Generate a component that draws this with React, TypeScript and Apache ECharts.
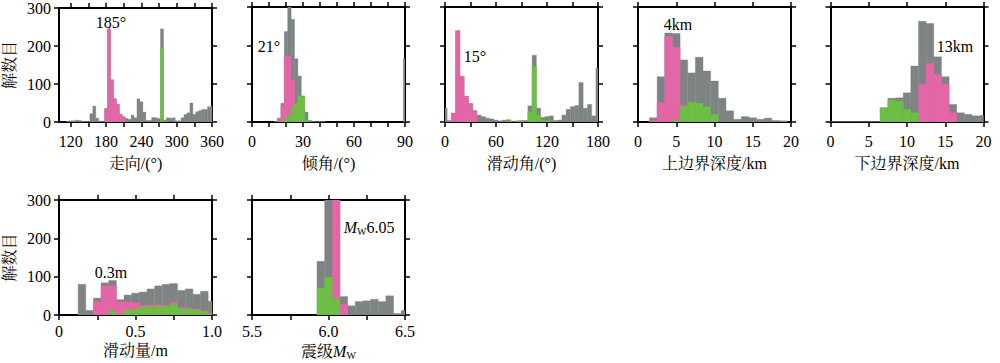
import React, { useEffect, useRef } from 'react';
import * as echarts from 'echarts';

// ---------- data (bin centres and counts) ----------
const strikeBins = [100,105,110,115,120,125,130,135,140,145,150,155,160,165,170,175,180,185,190,195,200,205,210,215,220,225,230,235,240,245,250,255,260,265,270,275,280,285,290,295,300,305,310,315,320,325,330,335,340,345,350,355,360];
const strikeAll = [0,0,0,2,3,3,5,4,2,1,1,22,42,10,2,2,35,245,111,61,46,20,14,9,7,18,11,61,53,26,4,4,12,11,9,245,5,11,10,11,3,3,11,20,24,50,20,27,30,33,33,40,42];
const strikePinkBins = [180,185,190,195,200,205,210];
const strikePink = [35,245,111,61,46,20,12];
const strikeGreenBins = [275,280];
const strikeGreen = [193,3];

const dipBins = [14,16,18,20,22,24,26,28,30,32,34,36,38,40,42,90];
const dipAll = [2,10,49,236,300,268,165,120,68,26,4,2,1,1,1,165];
const dipPinkBins = [16,18,20,22,24,26,28,30];
const dipPink = [7,44,170,172,110,45,18,4];
const dipGreenBins = [18,20,22,24,26,28,30,32];
const dipGreen = [2,7,18,38,48,68,66,6];

const rakeBins = [0,5,10,15,20,25,30,35,40,45,50,55,60,65,70,75,80,85,90,95,100,105,110,115,120,125,130,135,140,145,150,155,160,165,170,175,180];
const rakeAll = [36,4,23,238,119,67,48,30,18,14,10,8,5,3,5,6,2,3,4,4,42,174,36,12,14,16,4,5,18,33,40,43,103,36,46,16,140];
const rakePinkBins = [5,10,15,20,25,30,35];
const rakePink = [2,23,238,119,67,48,27];
const rakeGreenBins = [75,85,90,100,105,110,115,120,125];
const rakeGreen = [3,2,2,27,145,18,5,4,3];

const topBins = [2,3,4,5,6,7,8,9,10,11,12,13,14,15,16,17,18,19];
const topAll = [11,118,232,231,162,128,169,133,107,62,29,7,14,11,7,10,4,3];
const topPinkBins = [2,3,4,5,6];
const topPink = [4,50,223,195,43];
const topGreenBins = [5,6,7,8,9,10];
const topGreen = [4,40,52,49,40,20];

const botBins = [0,1,2,3,4,5,6,7,8,9,10,11,12,13,14,15,16,17,18,19,20];
const botAll = [1,1,1,1,1,1,1,37,62,63,76,146,263,257,170,118,46,24,20,16,17];
const botPinkBins = [12,13,14,15,16];
const botPink = [98,153,124,98,24];
const botGreenBins = [7,8,9,10,11];
const botGreen = [37,57,55,33,24];

const slipBins = [0.15,0.2,0.25,0.3,0.35,0.4,0.45,0.5,0.55,0.6,0.65,0.7,0.75,0.8,0.85,0.9,0.95,1.0];
const slipAll = [80,12,44,84,90,40,52,57,60,68,76,80,82,64,68,54,62,36];
const slipPinkBins = [0.25,0.3,0.35,0.4,0.45,0.5,0.55,0.6,0.65,0.7,0.75,0.8,0.85,0.9,0.95,1.0];
const slipPink = [35,76,76,35,34,33,25,26,27,26,33,20,18,16,11,5];
const slipGreenBins = [0.35,0.45,0.5,0.55,0.6,0.65,0.7,0.75,0.8,0.85,0.9,0.95,1.0];
const slipGreen = [10,13,16,21,22,24,23,28,17,16,13,9,4];

const mwBins = [5.95,6.0,6.05,6.1,6.15,6.2,6.25,6.3,6.35,6.4,6.45,6.5];
const mwAll = [140,300,300,48,24,35,37,41,35,50,4,12];
const mwPinkBins = [6.05,6.1];
const mwPink = [300,28];
const mwGreenBins = [5.95,6.0,6.05];
const mwGreen = [71,99,42];

// ticks / labels
const strikeTicks = [120,150,180,210,240,270,300,330,360];
const strikeLabels = [120,180,240,300,360];
const dipTicks = [0,10,20,30,40,50,60,70,80,90];
const dipLabels = [0,30,60,90];
const rakeTicks = [0,30,60,90,120,150,180];
const rakeLabels = [0,60,120,180];
const depthTicks = [0,5,10,15,20];
const depthLabels = [0,5,10,15,20];
const slipTicks = [0,0.25,0.5,0.75,1];
const slipLabels = [0,0.5,1];
const mwTicks = [5.5,5.75,6,6.25,6.5];
const mwLabels = [5.5,6,6.5];
const countTicks = [0,100,200,300];

const annotations = ['185°', '21°', '15°', '4km', '13km', '0.3m', '{i|M}{s|W}{n|6.05}'];

// ---------- style ----------
const FONT = "'Liberation Serif', 'Times New Roman', 'Noto Serif CJK SC', 'Noto Sans CJK SC', serif";
const GRAY = '#7e8383';
const PINK = '#e466a6';
const GREEN = '#6dbe45';

const fmtInt = (v: number) => String(Math.round(v));
const fmt1 = (v: number) => (v === 0 ? '0' : v.toFixed(1));

const panels = [
  { left: 59, top: 7, min: 100, max: 360, bw: 5, gB: strikeBins, g: strikeAll, pB: strikePinkBins, p: strikePink, grB: strikeGreenBins, gr: strikeGreen, ticks: strikeTicks, labels: strikeLabels, fmt: fmtInt, name: '走向/(°)', yName: true },
  { left: 252, top: 7, min: 0, max: 90, bw: 2, gB: dipBins, g: dipAll, pB: dipPinkBins, p: dipPink, grB: dipGreenBins, gr: dipGreen, ticks: dipTicks, labels: dipLabels, fmt: fmtInt, name: '倾角/(°)', yName: false },
  { left: 445, top: 7, min: 0, max: 180, bw: 5, gB: rakeBins, g: rakeAll, pB: rakePinkBins, p: rakePink, grB: rakeGreenBins, gr: rakeGreen, ticks: rakeTicks, labels: rakeLabels, fmt: fmtInt, name: '滑动角/(°)', yName: false },
  { left: 638, top: 7, min: 0, max: 20, bw: 1, gB: topBins, g: topAll, pB: topPinkBins, p: topPink, grB: topGreenBins, gr: topGreen, ticks: depthTicks, labels: depthLabels, fmt: fmtInt, name: '上边界深度/km', yName: false },
  { left: 830.5, top: 7, min: 0, max: 20, bw: 1, gB: botBins, g: botAll, pB: botPinkBins, p: botPink, grB: botGreenBins, gr: botGreen, ticks: depthTicks, labels: depthLabels, fmt: fmtInt, name: '下边界深度/km', yName: false },
  { left: 59, top: 200, min: 0, max: 1, bw: 0.05, gB: slipBins, g: slipAll, pB: slipPinkBins, p: slipPink, grB: slipGreenBins, gr: slipGreen, ticks: slipTicks, labels: slipLabels, fmt: fmt1, name: '滑动量/m', yName: true },
  { left: 252, top: 200, min: 5.5, max: 6.5, bw: 0.05, gB: mwBins, g: mwAll, pB: mwPinkBins, p: mwPink, grB: mwGreenBins, gr: mwGreen, ticks: mwTicks, labels: mwLabels, fmt: fmt1, name: '震级{i|M}{s|W}', yName: false },
];

const annoPos = [
  [111, 22], [269, 46], [475, 56], [678, 24], [955, 46], [111, 272], [369, 227],
];

function toBars(centers: number[], values: number[], w: number) {
  const out: number[][] = [];
  centers.forEach((c, i) => {
    if (values[i] > 0) out.push([c - w / 2, c + w / 2, values[i]]);
  });
  return out;
}

function makeRender(color: string) {
  return (params: any, api: any) => {
    const x0 = api.value(0);
    const x1 = api.value(1);
    const y = api.value(2);
    const a = api.coord([x0, 0]);
    const b = api.coord([x1, y]);
    const cs = params.coordSys;
    const shape = echarts.graphic.clipRectByRect(
      { x: a[0], y: b[1], width: b[0] - a[0], height: a[1] - b[1] },
      { x: cs.x, y: cs.y, width: cs.width, height: cs.height }
    );
    if (!shape) return null;
    return {
      type: 'rect',
      shape,
      style: { fill: color, stroke: color, lineWidth: 0.4 },
    };
  };
}

const richStyles = {
  i: { fontFamily: FONT, fontSize: 16, fontStyle: 'italic', color: '#000', lineHeight: 18 },
  s: { fontFamily: FONT, fontSize: 10, color: '#000', verticalAlign: 'bottom', lineHeight: 10 },
  n: { fontFamily: FONT, fontSize: 16, color: '#000', lineHeight: 18 },
};

function buildOption() {
  const grid: any[] = [];
  const xAxis: any[] = [];
  const yAxis: any[] = [];
  const series: any[] = [];
  const lineStyle = { color: '#000', width: 2 };
  const tickStyle = { color: '#000', width: 1.5 };
  const labelStyle = { color: '#000', fontSize: 16, fontFamily: FONT };

  panels.forEach((p, i) => {
    const row2 = p.top > 100;
    grid.push({ left: p.left, top: p.top, width: 153, height: 115, containLabel: false });
    // bottom x
    xAxis.push({
      gridIndex: i, type: 'value', min: p.min, max: p.max, position: 'bottom',
      axisLine: { show: true, onZero: false, lineStyle },
      axisTick: { show: true, inside: false, length: 5, customValues: p.ticks, lineStyle: tickStyle },
      axisLabel: { show: true, customValues: p.labels, margin: row2 ? 8 : 11, formatter: p.fmt, ...labelStyle },
      splitLine: { show: false },
      name: p.name, nameLocation: 'middle', nameGap: row2 ? 27 : 33,
      nameTextStyle: { color: '#000', fontSize: 16, fontFamily: FONT, rich: richStyles },
    });
    // top x
    xAxis.push({
      gridIndex: i, type: 'value', min: p.min, max: p.max, position: 'top',
      axisLine: { show: true, onZero: false, lineStyle },
      axisTick: { show: true, inside: false, length: 5, customValues: p.ticks, lineStyle: tickStyle },
      axisLabel: { show: false },
      splitLine: { show: false },
    });
    // left y
    yAxis.push({
      gridIndex: i, type: 'value', min: 0, max: 300, interval: 100, position: 'left',
      axisLine: { show: true, onZero: false, lineStyle },
      axisTick: { show: true, inside: false, length: 5, customValues: countTicks, lineStyle: tickStyle },
      axisLabel: { show: p.yName, customValues: countTicks, margin: 8, ...labelStyle },
      splitLine: { show: false },
      name: p.yName ? '解数目' : '', nameLocation: 'middle', nameGap: 42, nameRotate: 90,
      nameTextStyle: { color: '#000', fontSize: 16, fontFamily: FONT },
    });
    // right y
    yAxis.push({
      gridIndex: i, type: 'value', min: 0, max: 300, interval: 100, position: 'right',
      axisLine: { show: true, onZero: false, lineStyle },
      axisTick: { show: true, inside: false, length: 5, customValues: countTicks, lineStyle: tickStyle },
      axisLabel: { show: false },
      splitLine: { show: false },
    });
    const xi = i * 2;
    const yi = i * 2;
    const layers: [number[], number[], string][] = [
      [p.gB, p.g, GRAY],
      [p.pB, p.p, PINK],
      [p.grB, p.gr, GREEN],
    ];
    layers.forEach(([bins, vals, color]) => {
      series.push({
        type: 'custom', xAxisIndex: xi, yAxisIndex: yi,
        renderItem: makeRender(color),
        encode: { x: [0, 1], y: 2 },
        data: toBars(bins, vals, p.bw),
        clip: true,
        silent: true,
      });
    });
  });

  const graphic = annotations.map((t, i) => ({
    type: 'text',
    x: annoPos[i][0],
    y: annoPos[i][1],
    silent: true,
    style: {
      text: t,
      fontFamily: FONT,
      fontSize: 16,
      fill: '#000',
      align: 'center',
      verticalAlign: 'middle',
      rich: richStyles,
    },
  }));

  return {
    animation: false,
    backgroundColor: '#fff',
    grid, xAxis, yAxis, series, graphic,
  };
}

export default function App() {
  const ref = useRef<HTMLDivElement>(null);
  useEffect(() => {
    document.body.style.margin = '0';
    const chart = echarts.init(ref.current!, null, { renderer: 'svg' });
    chart.setOption(buildOption() as any);
    return () => chart.dispose();
  }, []);
  return <div ref={ref} style={{ width: 1000, height: 363 }} />;
}
